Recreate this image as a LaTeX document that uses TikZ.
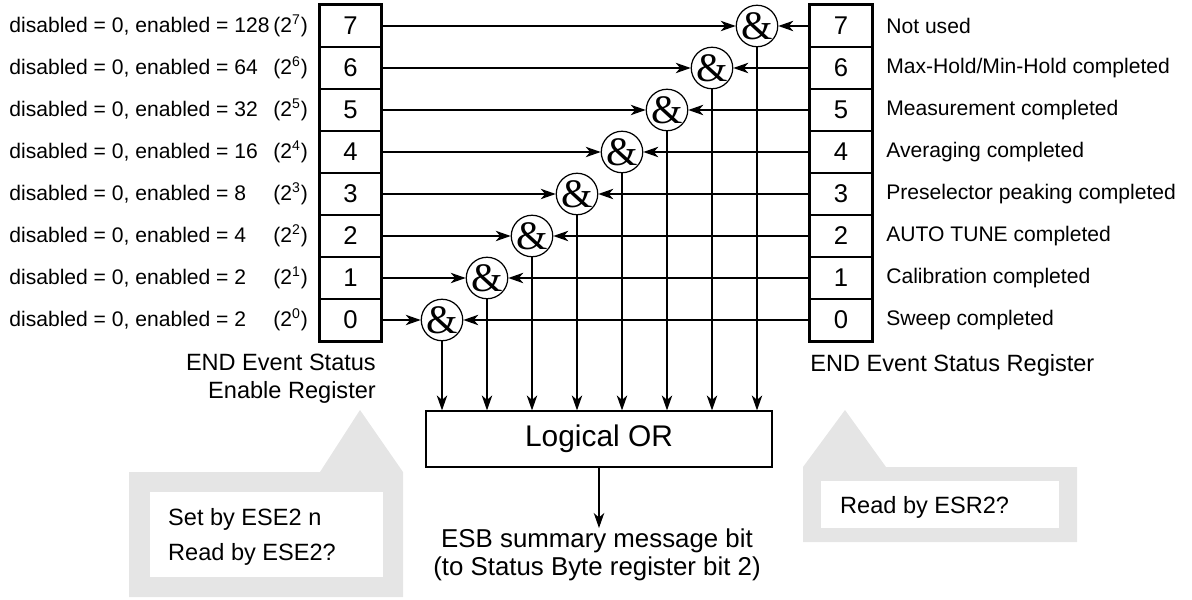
\documentclass[tikz,border=0pt]{standalone}
\usepackage{fontspec}
\setmainfont{Liberation Sans}
\newfontfamily\ampfont{Liberation Serif}
\usetikzlibrary{positioning,arrows.meta}

\begin{document}
\begin{tikzpicture}[x=0.2mm,y=-0.2mm,
    bitcell/.style={draw,line width=0.7pt,minimum width=12.2mm,minimum height=8.4mm,inner sep=0pt,font=\fontsize{14.6}{16}\selectfont},
    andgate/.style={draw,circle,fill=white,line width=0.7pt,minimum size=8.2mm,inner sep=0pt,font=\ampfont\fontsize{23}{23}\selectfont},
    sig/.style={line width=0.7pt,-{Stealth[length=3mm,width=2.1mm,inset=0.9mm]}},
    bitlabel/.style={font=\fontsize{12}{14}\selectfont,inner sep=0pt,anchor=west}]
  \useasboundingbox (0,0) rectangle (1192,600);
  % callouts
  \fill[gray!20] (129,472) -- (320,472) -- (360,410) -- (403,472) -- (403,597) -- (129,597) -- cycle;
  \fill[white] (150,492) rectangle (383,577);
  \fill[gray!20] (803,542) -- (803,467) -- (845,410) -- (886,467) -- (1077,467) -- (1077,542) -- cycle;
  \fill[white] (821,481) rectangle (1059,528);
  \node[font=\fontsize{13.4}{19.8}\selectfont,align=left,anchor=west] (setby) at (162,537) {Set by ESE2 n\\Read by ESE2?};
  \node[font=\fontsize{13.4}{16}\selectfont,anchor=west] (readby) at (834,507) {Read by ESR2?};
  % registers and gates
  \node[draw,line width=0.7pt,minimum width=69.2mm,minimum height=11.2mm,font=\fontsize{17}{20}\selectfont] (or) at (599,439) {Logical OR};
  \foreach \i/\v/\txt in {0/2/Sweep completed,1/2/Calibration completed,2/4/AUTO TUNE completed,3/8/Preselector peaking completed,4/16/Averaging completed,5/32/Measurement completed,6/64/{Max-Hold/Min-Hold completed},7/128/Not used} {
    \node[bitcell] (ese\i) at (350.5,{320-42*\i}) {\i};
    \node[bitcell] (esr\i) at (841,{320-42*\i}) {\i};
    \node[andgate] (and\i) at ({442+45*\i},{320-42*\i}) {\&};
    \node[bitlabel] (en\i) at (9,{320-42*\i}) {disabled = 0, enabled = \v};
    \node[bitlabel] (pw\i) at (273,{320-42*\i}) {(2\textsuperscript{\i})};
    \node[bitlabel] (ev\i) at (886,{320-42*\i}) {\txt};
    \draw[sig] (ese\i.east) -- (and\i.west);
    \draw[sig] (esr\i.west) -- (and\i.east);
    \draw[sig] (and\i.south) -- (and\i.south |- or.north);
  }
  \draw[line width=1.7pt] (ese7.north west) rectangle (ese0.south east);
  \draw[line width=1.7pt] (esr7.north west) rectangle (esr0.south east);
  \node[font=\fontsize{13.4}{15.9}\selectfont,align=right,anchor=east] (esecap) at (382,379) {END Event Status\\Enable Register};
  \node[font=\fontsize{13.4}{15.9}\selectfont,anchor=west,inner sep=0pt] (esrcap) at (810,365) {END Event Status Register};
  \node[font=\fontsize{14.7}{16.4}\selectfont,align=center,anchor=north,inner sep=0pt] (esb) at (597,528) {ESB summary message bit\\(to Status Byte register bit 2)};
  \draw[sig] (or.south) -- (or.south |- esb.north);
\end{tikzpicture}
\end{document}
